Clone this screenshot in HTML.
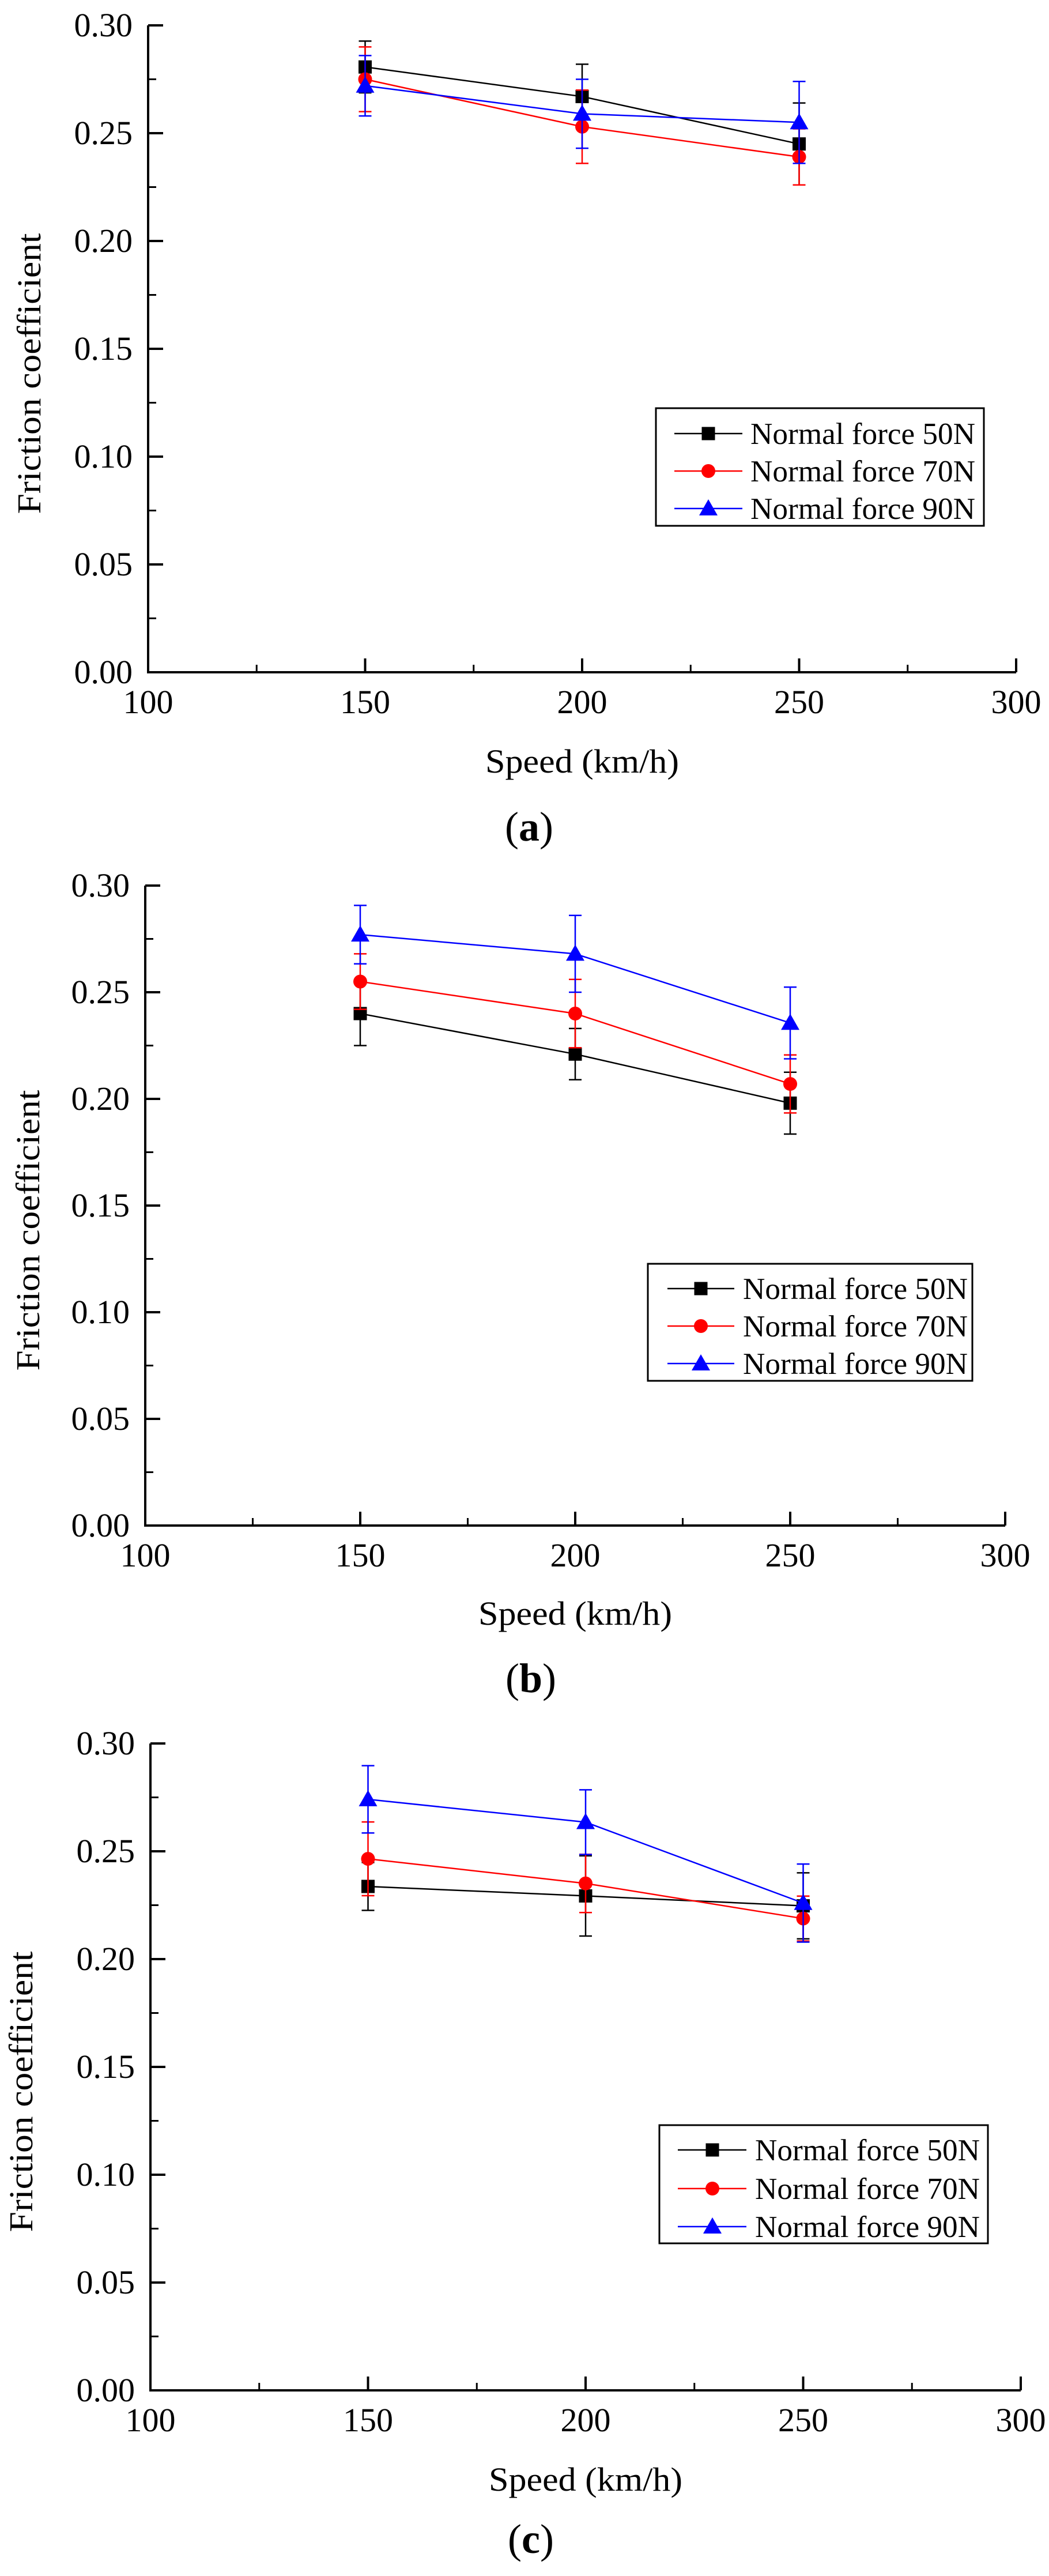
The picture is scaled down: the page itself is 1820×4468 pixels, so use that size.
<!DOCTYPE html>
<html><head><meta charset="utf-8"><style>
html,body{margin:0;padding:0;background:#fff;}
svg{display:block;}
text{font-family:"Liberation Serif",serif;fill:#000;}
</style></head><body>
<svg id="fig" width="1820" height="4468" viewBox="0 0 1820 4468" xmlns="http://www.w3.org/2000/svg"></svg>
<script>
const categories = [150, 200, 250];
const xTicks = [100, 150, 200, 250, 300];
const yTicks = [0.00, 0.05, 0.10, 0.15, 0.20, 0.25, 0.30];
const seriesNames = ["Normal force 50N", "Normal force 70N", "Normal force 90N"];
// panel (a)
const a50 = [0.2807, 0.267, 0.245];
const a50err = [0.012, 0.015, 0.019];
const a70 = [0.275, 0.253, 0.239];
const a70err = [0.015, 0.017, 0.013];
const a90 = [0.272, 0.259, 0.255];
const a90err = [0.014, 0.016, 0.019];
// panel (b)
const b50 = [0.240, 0.221, 0.198];
const b50err = [0.015, 0.012, 0.0145];
const b70 = [0.255, 0.240, 0.207];
const b70err = [0.013, 0.016, 0.0136];
const b90 = [0.277, 0.268, 0.2356];
const b90err = [0.0137, 0.018, 0.0168];
// panel (c)
const c50 = [0.2337, 0.2293, 0.2247];
const c50err = [0.0111, 0.0186, 0.0153];
const c70 = [0.2465, 0.2351, 0.2188];
const c70err = [0.0171, 0.0135, 0.0104];
const c90 = [0.2741, 0.2635, 0.226];
const c90err = [0.0156, 0.015, 0.0181];

const NS = "http://www.w3.org/2000/svg";
const svg = document.getElementById('fig');
const colors = ["#000000", "#ff0000", "#0000ff"];
const panels = [
  {id:'a', x0:257, x1:1763, yTop:44, yBot:1166, data:[a50,a70,a90], err:[a50err,a70err,a90err],
   leg:{x:1138,y:708,w:569,h:204,ys:[752,817,882],l0:1170,l1:1288,mx:1229,tx:1302},
   ytitle:{x:70,y:648}, xtitle:1340, label:1458, labelX:918},
  {id:'b', x0:252, x1:1744, yTop:1536, yBot:2646, data:[b50,b70,b90], err:[b50err,b70err,b90err],
   leg:{x:1124,y:2192,w:563,h:203,ys:[2235,2300,2365],l0:1158,l1:1274,mx:1216,tx:1289},
   ytitle:{x:68,y:2134}, xtitle:2818, label:2935, labelX:921},
  {id:'c', x0:261, x1:1771, yTop:3024, yBot:4146, data:[c50,c70,c90], err:[c50err,c70err,c90err],
   leg:{x:1144,y:3686,w:570,h:205,ys:[3729,3796,3862],l0:1176,l1:1295,mx:1236,tx:1310},
   ytitle:{x:56,y:3628}, xtitle:4320, label:4428, labelX:921}
];
function mk(tag, attrs, parent){
  const e = document.createElementNS(NS, tag);
  for (const k in attrs) e.setAttribute(k, attrs[k]);
  (parent||svg).appendChild(e);
  return e;
}
function marker(g, i, cx, cy){
  let m;
  if (i===0) m = mk('rect',{x:cx-11.5,y:cy-11.5,width:23,height:23,fill:colors[0]},g);
  else if (i===1) m = mk('circle',{cx:cx,cy:cy,r:12,fill:colors[1]},g);
  else m = mk('polygon',{points:`${cx},${cy-16} ${cx+16},${cy+12} ${cx-16},${cy+12}`,fill:colors[2]},g);
  return m;
}
panels.forEach(p=>{
  const xs = v => p.x0 + (v-100)/200*(p.x1-p.x0);
  const ys = v => p.yBot - v/0.30*(p.yBot-p.yTop);
  const g = mk('g',{});
  
  
  const ax = mk('path',{d:`M${p.x0},${p.yTop} V${p.yBot} H${p.x1}`,stroke:'#000','stroke-width':4,fill:'none'},g);
  
  
  yTicks.forEach((t,k)=>{
    const y = ys(t);
    mk('line',{x1:p.x0,x2:p.x0+26,y1:y,y2:y,stroke:'#000','stroke-width':4},g);
    if (k<yTicks.length-1){ const ym = ys(t+0.025); mk('line',{x1:p.x0,x2:p.x0+14,y1:ym,y2:ym,stroke:'#000','stroke-width':3},g); }
    const tx = mk('text',{x:p.x0-27,y:y+19,'font-size':58,'text-anchor':'end'},g);
    tx.textContent = t.toFixed(2);
    
    
  });
  xTicks.forEach((t,k)=>{
    const x = xs(t);
    mk('line',{x1:x,x2:x,y1:p.yBot,y2:p.yBot-24,stroke:'#000','stroke-width':4},g);
    if (k<xTicks.length-1){ const xm = xs(t+25); mk('line',{x1:xm,x2:xm,y1:p.yBot,y2:p.yBot-13,stroke:'#000','stroke-width':3},g); }
    const tx = mk('text',{x:x,y:p.yBot+71,'font-size':58,'text-anchor':'middle'},g);
    tx.textContent = t;
    
    
  });
  const yt = mk('text',{x:0,y:0,'font-size':58,'text-anchor':'middle',textLength:487,lengthAdjust:'spacingAndGlyphs',transform:`translate(${p.ytitle.x},${p.ytitle.y}) rotate(-90)`},g);
  yt.textContent = 'Friction coefficient';
  
  
  const xt = mk('text',{x:(p.x0+p.x1)/2,y:p.xtitle,'font-size':58,'text-anchor':'middle',textLength:336,lengthAdjust:'spacingAndGlyphs'},g);
  xt.textContent = 'Speed (km/h)';
  
  
  const lb = mk('text',{x:p.labelX,y:p.label,'font-size':72,'text-anchor':'middle'},g);
  lb.innerHTML = '(<tspan font-weight="bold">'+p.id+'</tspan>)';
  
  
  p.data.forEach((vals,i)=>{
    const sg = mk('g',{},g);
    
    
    vals.forEach((v,j)=>{
      const x = xs(categories[j]), e = p.err[i][j];
      const top = ys(v+e), bot = ys(v-e);
      mk('path',{d:`M${x},${top} V${bot} M${x-11},${top} H${x+11} M${x-11},${bot} H${x+11}`,stroke:colors[i],'stroke-width':2.5,fill:'none'},sg);
    });
    const pl = mk('polyline',{points:vals.map((v,j)=>xs(categories[j])+','+ys(v)).join(' '),stroke:colors[i],'stroke-width':2.5,fill:'none'},sg);
    
    
    vals.forEach((v,j)=>{
      const m = marker(sg,i,xs(categories[j]),ys(v));
      
      
    });
  });
  const L = p.leg;
  const lg = mk('g',{},g);
  
  
  mk('rect',{x:L.x,y:L.y,width:L.w,height:L.h,fill:'#fff',stroke:'#000','stroke-width':3},lg);
  seriesNames.forEach((n,i)=>{
    const eg = mk('g',{},lg);
    
    
    const y = L.ys[i];
    mk('line',{x1:L.l0,x2:L.l1,y1:y,y2:y,stroke:colors[i],'stroke-width':2.5},eg);
    marker(eg,i,L.mx,y);
    const t = mk('text',{x:L.tx,y:y+18,'font-size':53,textLength:390,lengthAdjust:'spacingAndGlyphs'},eg);
    t.textContent = n;
  });
});
</script>
</body></html>
